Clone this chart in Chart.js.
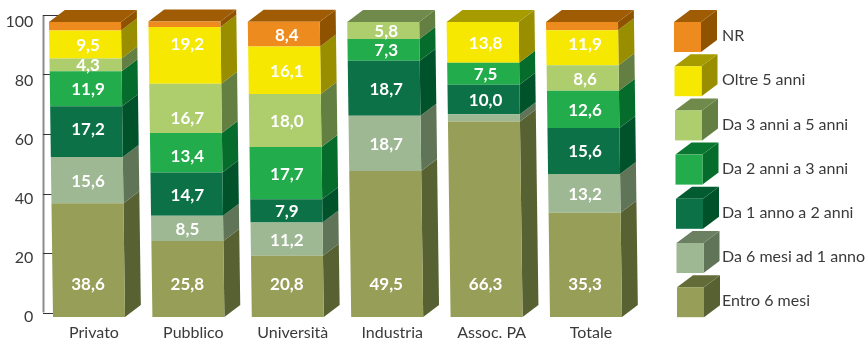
<!DOCTYPE html>
<html>
<head>
<meta charset="utf-8">
<style>
  html, body { margin: 0; padding: 0; background: #fff; }
  canvas { display: block; }
</style>
<script src="https://cdn.jsdelivr.net/npm/chart.js@4"></script>
</head>
<body>
<canvas id="chart" width="866" height="341"></canvas>
<script>
// Categories and series, bottom of the stack first
const categories = ["Privato", "Pubblico", "Università", "Industria", "Assoc. PA", "Totale"];
const entro6Mesi = [38.6, 25.8, 20.8, 49.5, 66.3, 35.3];
const da6MesiA1Anno = [15.6, 8.5, 11.2, 18.7, 2.4, 13.2];
const da1A2Anni = [17.2, 14.7, 7.9, 18.7, 10.0, 15.6];
const da2A3Anni = [11.9, 13.4, 17.7, 7.3, 7.5, 12.6];
const da3A5Anni = [4.3, 16.7, 18.0, 5.8, 0, 8.6];
const oltre5Anni = [9.5, 19.2, 16.1, 0, 13.8, 11.9];
const nonRisposto = [2.9, 1.9, 8.4, 0, 0, 2.8];
const yTicks = [0, 20, 40, 60, 80, 100];

// Face colours: front, side, top
const palette = [
    ["#979e57", "#586132", "#636b38"],
    ["#9db892", "#607558", "#6b8060"],
    ["#0c7146", "#00522b", "#035c31"],
    ["#22ac4b", "#066c2c", "#0a7730"],
    ["#aece6e", "#647f42", "#6f8a4b"],
    ["#f6e800", "#998e00", "#a69c00"],
    ["#ee8b1e", "#8f5300", "#a05c05"]
];

const fontFamily = "Lato, sans-serif";
const depthX = 16;
const depthY = 12;
const lean = 4 / 295; // the bars lean slightly to the left going up
const bottomLabelValue = 11.2; // bottom segment labels all sit at the same height
const minLabelled = 4;
// Hand nudges for labels that are not centred in the original, "series-category": px
const labelNudge = { "2-0": -3, "3-1": 3, "4-1": 9, "5-1": -12, "5-5": -4 };

function box(ctx, x, y, w, h, colors) {
    ctx.fillStyle = colors[1];
    ctx.beginPath();
    ctx.moveTo(x + w, y);
    ctx.lineTo(x + w + depthX, y - depthY);
    ctx.lineTo(x + w + depthX, y + h - depthY);
    ctx.lineTo(x + w, y + h);
    ctx.closePath();
    ctx.fill();
}

function topFace(ctx, x, y, w, color) {
    ctx.fillStyle = color;
    ctx.beginPath();
    ctx.moveTo(x, y);
    ctx.lineTo(x + depthX, y - depthY);
    ctx.lineTo(x + w + depthX, y - depthY);
    ctx.lineTo(x + w, y);
    ctx.closePath();
    ctx.fill();
}

// Axis line and ticks, side and top faces, lean, value labels and cube legend
const bars3d = {
    id: "bars3d",
    beforeDatasetsDraw(chart) {
        const ctx = chart.ctx;
        const y = chart.scales.y;

        // the axis sits a little above the bars
        const axisY = v => y.getPixelForValue(v) - 4.5 - 2.5 * (v / 100);
        ctx.save();
        ctx.strokeStyle = "#8c8c8c";
        ctx.lineWidth = 2;
        ctx.beginPath();
        ctx.moveTo(43.5, axisY(100));
        ctx.lineTo(43.5, axisY(0));
        ctx.stroke();
        ctx.strokeStyle = "#333";
        ctx.lineWidth = 1;
        yTicks.forEach(v => {
            ctx.beginPath();
            ctx.moveTo(43, Math.round(axisY(v)) + 0.5);
            ctx.lineTo(60, Math.round(axisY(v)) + 0.5);
            ctx.stroke();
        });
        ctx.restore();

        ctx.save();
        ctx.transform(1, 0, lean, 1, -lean * y.getPixelForValue(0), 0);
        chart.data.datasets.forEach((ds, d) => {
            chart.getDatasetMeta(d).data.forEach((el, i) => {
                if (!ds.data[i]) return;
                const left = el.x - el.width / 2;
                box(ctx, left, el.y, el.width, el.base - el.y, palette[d]);
                const isTop = chart.data.datasets.slice(d + 1).every(o => !o.data[i]);
                if (isTop) topFace(ctx, left, el.y, el.width, palette[d][2]);
            });
        });
        // left on the stack so the native bars get the same lean
    },
    afterDatasetsDraw(chart) {
        const ctx = chart.ctx;
        ctx.restore();

        ctx.save();
        ctx.fillStyle = "#fff";
        ctx.font = "700 17px " + fontFamily;
        ctx.textAlign = "center";
        ctx.textBaseline = "middle";
        chart.data.datasets.forEach((ds, d) => {
            chart.getDatasetMeta(d).data.forEach((el, i) => {
                const v = ds.data[i];
                if (v < minLabelled) return;
                let py = d === 0 ? chart.scales.y.getPixelForValue(bottomLabelValue) : (el.y + el.base) / 2;
                py += (labelNudge[d + "-" + i] || 0) + 1;
                ctx.fillText(v.toFixed(1).replace(".", ","), el.x - 1, py);
            });
        });
        ctx.restore();

        // Legend: top entry is the last series
        ctx.save();
        ctx.font = "16px " + fontFamily;
        ctx.textBaseline = "middle";
        ctx.textAlign = "left";
        const n = chart.data.datasets.length;
        chart.data.datasets.slice().reverse().forEach((ds, k) => {
            const colors = palette[n - 1 - k];
            const x = 674 + k * 0.5;
            const top = 22 + k * 44.2;
            box(ctx, x, top, 27, 30, colors);
            topFace(ctx, x, top, 27, colors[2]);
            ctx.fillStyle = colors[0];
            ctx.fillRect(x, top, 27, 30);
            ctx.fillStyle = "#3a3a3a";
            ctx.fillText(ds.label, 722, top + 14);
        });
        ctx.restore();
    }
};

const seriesNames = ["Entro 6 mesi", "Da 6 mesi ad 1 anno", "Da 1 anno a 2 anni", "Da 2 anni a 3 anni", "Da 3 anni a 5 anni", "Oltre 5 anni", "NR"];
const seriesValues = [entro6Mesi, da6MesiA1Anno, da1A2Anni, da2A3Anni, da3A5Anni, oltre5Anni, nonRisposto];

new Chart(document.getElementById("chart"), {
    type: "bar",
    data: {
        labels: categories,
        datasets: seriesValues.map((values, d) => ({
            label: seriesNames[d],
            data: values,
            backgroundColor: palette[d][0],
            borderWidth: 0,
            clip: false,
            barPercentage: 72 / 99.4,
            categoryPercentage: 1
        }))
    },
    options: {
        responsive: false,
        animation: false,
        layout: { padding: { top: 22, right: 230.3, left: 0, bottom: 0 } },
        plugins: { legend: { display: false }, tooltip: { enabled: false } },
        scales: {
            x: {
                stacked: true,
                grid: { display: false, drawTicks: false },
                border: { display: false },
                afterFit(scale) { scale.height = 24; },
                ticks: {
                    labelOffset: 5,
                    padding: 6,
                    maxRotation: 0,
                    color: "#3a3a3a",
                    font: { family: fontFamily, size: 16 }
                }
            },
            y: {
                stacked: true,
                min: 0,
                max: 100,
                grid: { display: false, drawTicks: false },
                border: { display: false },
                afterFit(scale) { scale.width = 39.3; },
                ticks: {
                    stepSize: 20,
                    padding: 6,
                    color: "#3a3a3a",
                    font: { family: fontFamily, size: 16 }
                }
            }
        }
    },
    plugins: [bars3d]
});
</script>
</body>
</html>
